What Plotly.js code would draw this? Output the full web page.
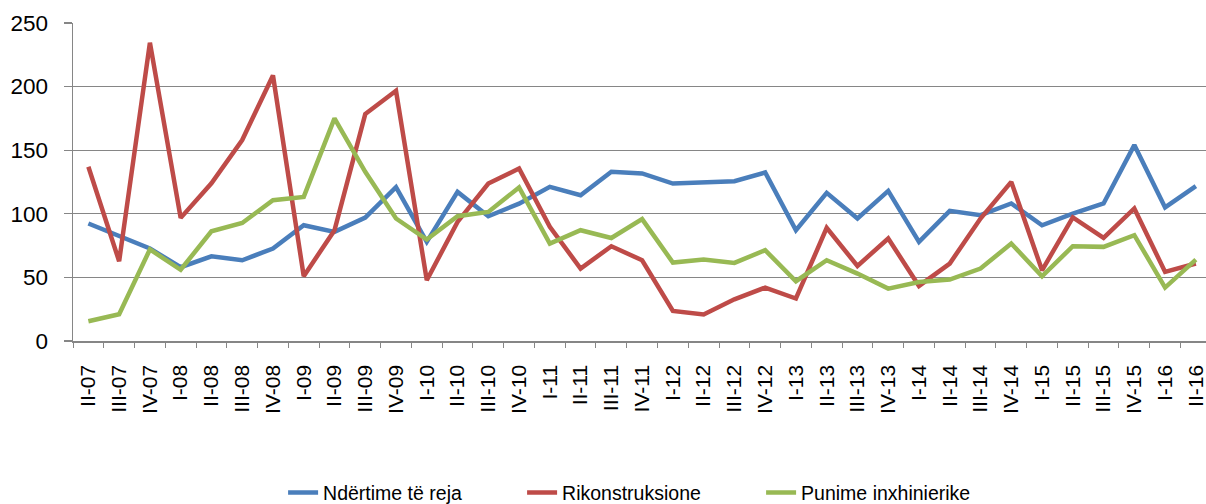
<!DOCTYPE html>
<html>
<head>
<meta charset="utf-8">
<script src="https://cdn.plot.ly/plotly-3.0.1.min.js"></script>
<style>
html,body{margin:0;padding:0;background:#fff;}
#chart{width:1206px;height:504px;}
</style>
</head>
<body>
<div id="chart"></div>
<script>
var categories = ["II-07","III-07","IV-07","I-08","II-08","III-08","IV-08","I-09","II-09","III-09","IV-09","I-10","II-10","III-10","IV-10","I-11","II-11","III-11","IV-11","I-12","II-12","III-12","IV-12","I-13","II-13","III-13","IV-13","I-14","II-14","III-14","IV-14","I-15","II-15","III-15","IV-15","I-16","II-16"];

var ndertimeTeReja = [92.4,82.6,72.7,58,66.6,63.5,72.7,91,85.8,97,121,77.9,117.2,98.1,108,121.2,114.6,133,131.7,123.8,124.3,125.6,132.5,87.1,116.5,96.3,118,77.9,102.3,98.9,108.1,91,100.2,108.1,154,105,121.7];

var rikonstruksione = [137,62.7,234.5,96.8,124,158,208.8,51,87,178.4,196.7,47.8,93.6,123.8,135.6,89.7,57,74.5,63.5,23.6,20.8,32.8,42,33.4,88.9,59,80.6,43.3,60.9,96.3,125.1,55.6,97.1,81,104.2,54.3,60.9];

var punimeInxhinierike = [15.5,21,72,56,86.3,92.8,110.7,113.3,175,133,96.3,79.8,98.1,101.5,120.7,76.6,87.1,81,95.8,61.7,64,61.4,71.4,47,63.5,53,41.2,46.4,48.3,57,76.6,50.9,74.5,74,83.2,42,64];

var seriesNames = ["Ndërtime të reja","Rikonstruksione","Punime inxhinierike"];
var seriesColors = ["#4A7EBB","#BE4B48","#98B954"];

var data = [ndertimeTeReja, rikonstruksione, punimeInxhinierike].map(function(vals, k){
  return {
    type: "scatter",
    mode: "lines",
    x: categories,
    y: vals,
    name: seriesNames[k],
    line: {color: seriesColors[k], width: 4.5},
    hoverinfo: "x+y+name"
  };
});

var layout = {
  width: 1206,
  height: 504,
  margin: {l: 73, r: 0, t: 23, b: 163, autoexpand: false},
  paper_bgcolor: "#ffffff",
  plot_bgcolor: "#ffffff",
  font: {family: "Liberation Sans, Arial, sans-serif", color: "#000000"},
  showlegend: true,
  xaxis: {
    type: "category",
    range: [-0.5, 36.33],
    automargin: false,
    showgrid: false,
    zeroline: false,
    showline: true,
    linecolor: "#868686",
    linewidth: 1.5,
    ticks: "outside",
    tickson: "boundaries",
    ticklen: 5,
    tickcolor: "#868686",
    tickwidth: 1,
    tickangle: -90,
    ticklabelstandoff: 14,
    tickfont: {size: 21, family: "Liberation Sans, Arial, sans-serif", color: "#000"}
  },
  yaxis: {
    range: [0, 250],
    automargin: false,
    tickvals: [0,50,100,150,200,250],
    showgrid: true,
    gridcolor: "#868686",
    gridwidth: 1.2,
    zeroline: false,
    showline: true,
    linecolor: "#868686",
    linewidth: 1.5,
    ticks: "outside",
    ticklen: 8,
    tickcolor: "#868686",
    tickwidth: 1.2,
    ticklabelstandoff: 11,
    tickfont: {size: 22.5, family: "Liberation Sans, Arial, sans-serif", color: "#000"}
  },
  legend: {
    orientation: "h",
    xref: "container",
    x: 0.532,
    xanchor: "center",
    yref: "container",
    y: 0.022,
    yanchor: "middle",
    font: {size: 19.5, family: "Liberation Sans, Arial, sans-serif", color: "#000"},
    entrywidth: 194,
    entrywidthmode: "pixels",
    bgcolor: "rgba(0,0,0,0)"
  }
};

Plotly.newPlot("chart", data, layout, {displayModeBar: false, staticPlot: true});
</script>
</body>
</html>
